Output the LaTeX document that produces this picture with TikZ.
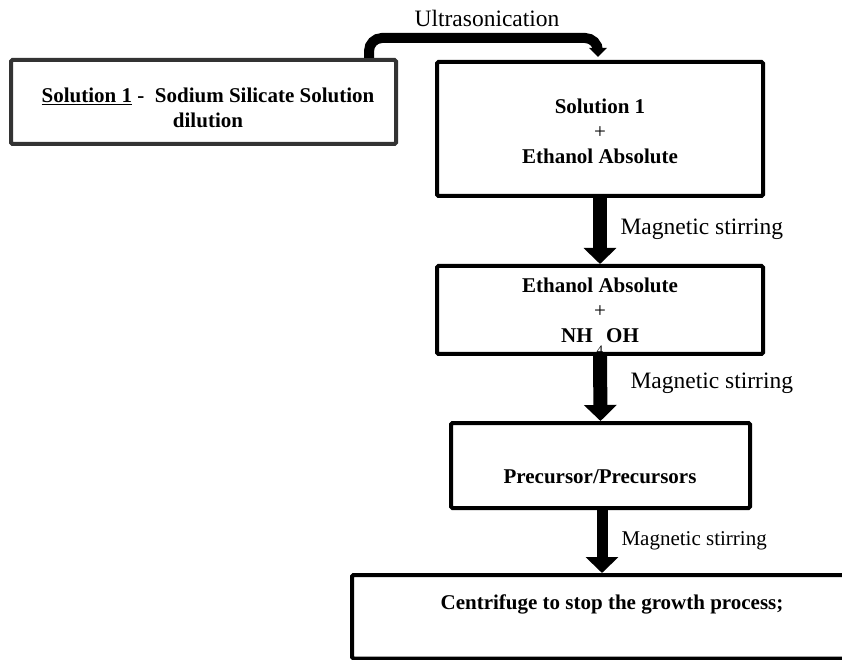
\documentclass[tikz,border=0pt]{standalone}
\usepackage{fontspec}
\setmainfont{Liberation Serif}
\usetikzlibrary{arrows.meta,positioning}
\definecolor{boxgray}{HTML}{333333}
\tikzset{
  procbox/.style={draw,line width=4pt,rounded corners=1.5pt,inner sep=0pt},
  boxtext/.style={font=\fontsize{21}{25}\selectfont\bfseries,align=center},
  steplabel/.style={font=\fontsize{23.5}{26}\selectfont,anchor=west},
  flow/.style={line width=14pt,-{Triangle[width=32pt,length=16pt]}},
  sonic/.style={line width=10pt,rounded corners=13pt,-{Triangle[width=17pt,length=9pt]}}}
\begin{document}
\begin{tikzpicture}[x=1pt,y=1pt]
\useasboundingbox(0,0)rectangle(842,659);
\clip(0,0)rectangle(842,659);
% process boxes
\node[procbox,draw=boxgray,minimum width=385pt,minimum height=84pt](dil)at(203.5,557){};
\node[procbox,minimum width=326pt,minimum height=134pt](mix)at(600,530){};
\node[procbox,minimum width=326pt,minimum height=88pt](ammo)at(600,349){};
\node[procbox,minimum width=299pt,minimum height=85pt](prec)at(600.5,193.5){};
\node[procbox,minimum width=568pt,minimum height=83.5pt](cent)at(636,42.25){};
% box texts
\node[boxtext](dilText)at(208,551){\underline{Solution 1} -\ \ Sodium Silicate Solution\\dilution};
\node[boxtext](mixText)at(600,528){Solution 1\\\mdseries+\\Ethanol Absolute};
\node[boxtext](ammoText)at(600,349){Ethanol Absolute\\\mdseries+\\NH\hspace{4pt}\smash{\raisebox{-12pt}{\fontsize{13}{13}\selectfont\mdseries 4}}\hspace{3pt}OH};
\node[boxtext](precText)at(600,182){Precursor/Precursors};
\node[boxtext](centText)at(612,55){Centrifuge to stop the growth process;};
% connectors
\draw[sonic]([xshift=165.5pt]dil.north)--++(0,20)-|([xshift=-2pt,yshift=3pt]mix.north);
\node[font=\fontsize{23.5}{26}\selectfont](usText)at(487,641){Ultrasonication};
\draw[flow](mix.south)--(ammo.north);
\draw[flow](ammo.south)--(prec.north);
\draw[flow,line width=11pt]([xshift=1.5pt]prec.south)--([xshift=1.5pt]cent.north -| prec.south);
\node[steplabel](stirA)at(617,430){Magnetic stirring};
\node[steplabel](stirB)at(627,276){Magnetic stirring};
\node[steplabel,font=\fontsize{21}{24}\selectfont](stirC)at(618,118){Magnetic stirring};
\end{tikzpicture}
\end{document}
